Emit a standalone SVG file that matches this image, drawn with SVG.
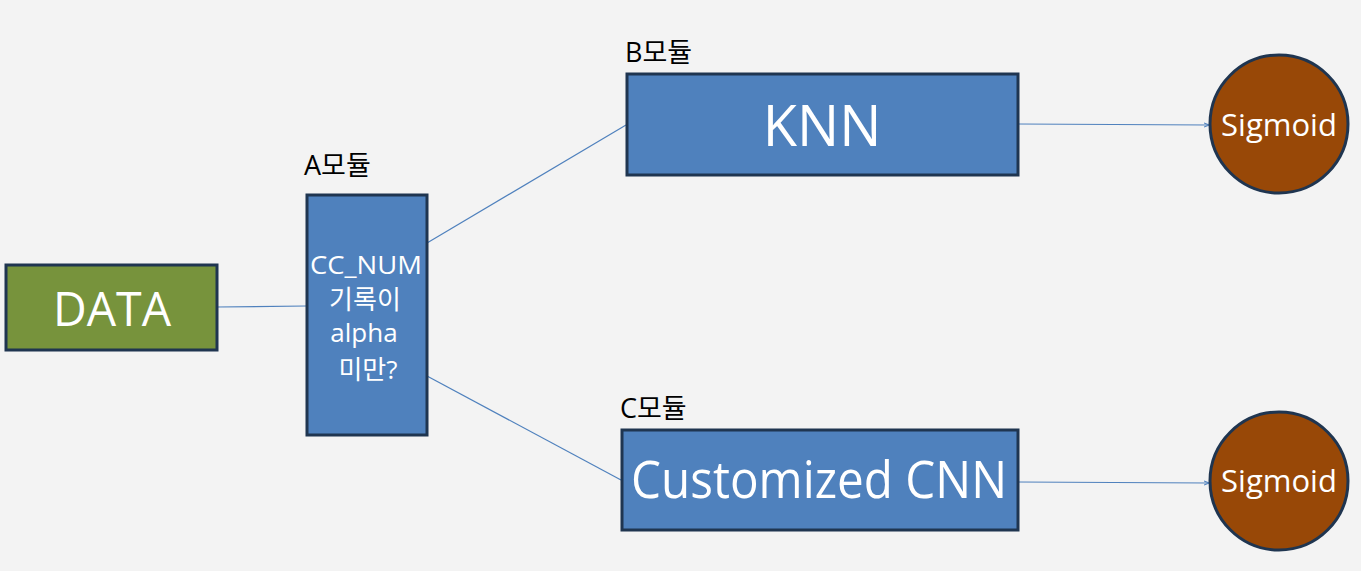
<svg xmlns="http://www.w3.org/2000/svg" width="1361" height="571" viewBox="0 0 1361 571">
<style>
.box{stroke:#1F3550;stroke-width:3}
.blue{fill:#4F81BD}
.wt{fill:#fff;font-family:"Open Sans","Noto Sans CJK KR",sans-serif;text-anchor:middle}
.lbl{fill:#000;font-family:"Open Sans","Noto Sans CJK KR",sans-serif;font-size:27px}
.conn{stroke:#4F81BD;stroke-width:1.2;fill:none}
</style>
<defs>
<marker id="ah" markerWidth="6" markerHeight="6" refX="5" refY="3" orient="auto" markerUnits="userSpaceOnUse">
<path d="M0,1 L5,3 L0,5" fill="none" stroke="#4F81BD" stroke-width="1"/>
</marker>
</defs>
<rect width="1361" height="571" fill="#F3F3F3"/>
<g id="connectors">
<line class="conn" x1="217" y1="307" x2="306" y2="306"/>
<line class="conn" x1="427" y1="243" x2="626" y2="125"/>
<line class="conn" x1="427" y1="376" x2="621" y2="480"/>
<line class="conn" x1="1018" y1="124" x2="1209" y2="125" marker-end="url(#ah)"/>
<line class="conn" x1="1018" y1="482" x2="1209" y2="483" marker-end="url(#ah)"/>
</g>
<g id="data">
<rect class="box" x="6" y="265" width="211" height="85" fill="#77933C"/>
<text class="wt" x="112" y="326" font-size="48" textLength="118" lengthAdjust="spacingAndGlyphs">DATA</text>
</g>
<g id="a-module">
<text class="lbl" x="304" y="175">A모듈</text>
<rect class="box blue" x="307" y="195" width="120" height="240"/>
<text class="wt" x="366" y="274" font-size="26" textLength="112" lengthAdjust="spacingAndGlyphs">CC_NUM</text>
<text class="wt" x="365" y="309" font-size="26">기록이</text>
<text class="wt" x="364" y="342" font-size="26">alpha</text>
<text class="wt" x="368" y="379" font-size="26">미만?</text>
</g>
<g id="b-module">
<text class="lbl" x="625" y="62">B모듈</text>
<rect class="box blue" x="627" y="74" width="391" height="101"/>
<text class="wt" x="822" y="146" font-size="56">KNN</text>
</g>
<g id="c-module">
<text class="lbl" x="620" y="418">C모듈</text>
<rect class="box blue" x="622" y="430" width="396" height="100"/>
<text class="wt" x="819" y="498" font-size="51" textLength="376" lengthAdjust="spacingAndGlyphs">Customized CNN</text>
</g>
<g id="sigmoid-1">
<circle cx="1279" cy="124" r="69" fill="#984807" class="box"/>
<text class="wt" x="1279" y="136" font-size="31">Sigmoid</text>
</g>
<g id="sigmoid-2">
<circle cx="1279" cy="481" r="69" fill="#984807" class="box"/>
<text class="wt" x="1279" y="492" font-size="31">Sigmoid</text>
</g>
</svg>
